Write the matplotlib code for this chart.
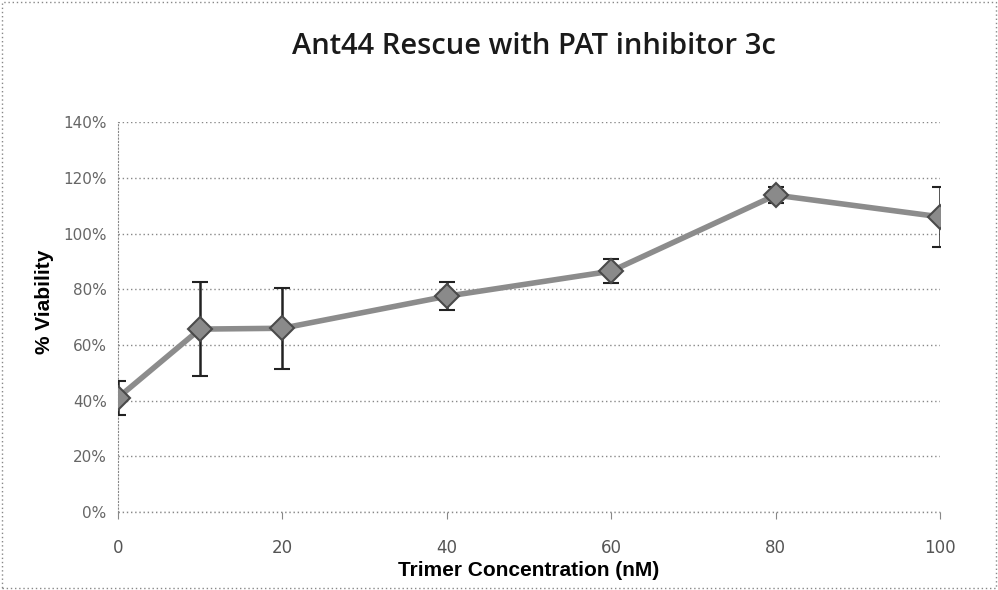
#!/usr/bin/env python3

import numpy as np
import matplotlib
matplotlib.use('Agg')
import matplotlib.pyplot as plt
from matplotlib.patches import Rectangle

# data
conc = [0, 10, 20, 40, 60, 80, 100]
viability = [41, 65.7, 66, 77.5, 86.5, 113.8, 106]
err = [6, 17, 14.5, 5, 4.3, 3, 10.7]

fig = plt.figure(figsize=(9.98, 5.9), dpi=100)
ax = fig.add_axes([0.118, 0.132, 0.824, 0.661])

ax.errorbar(conc, viability, yerr=err, color='#8c8c8c', lw=4,
            marker='D', markersize=12, markerfacecolor='#8a8a8a',
            markeredgecolor='#4a4a4a', markeredgewidth=1.5,
            ecolor='#222222', elinewidth=1.8,
            capsize=6, capthick=1.8, zorder=3)

ax.set_xlim(0, 100)
ax.set_ylim(0, 140)
ax.set_yticks(np.arange(0, 141, 20))
ax.set_yticklabels([f'{v}%' for v in range(0, 141, 20)])
ax.set_xticks([0, 20, 40, 60, 80, 100])

ax.grid(axis='y', linestyle=(0, (1, 2)), color='#888888', lw=1)
for s in ['top', 'right', 'bottom']:
    ax.spines[s].set_visible(False)
ax.spines['left'].set_linestyle((0, (1, 2)))
ax.spines['left'].set_color('#888888')
ax.axhline(0, color='#888888', lw=1, linestyle=(0, (1, 2)), clip_on=False)
ax.tick_params(axis='y', length=0, pad=8, labelsize=11, labelcolor='#666666')
ax.tick_params(axis='x', length=5, color='#888888', direction='out', pad=14,
               labelsize=12, labelcolor='#555555')

ax.set_xlabel('Trimer Concentration (nM)', fontsize=15, fontweight='bold',
              family='Liberation Sans', labelpad=3)
ax.set_ylabel('% Viability', fontsize=15, fontweight='bold',
              family='Liberation Sans', labelpad=4)
ax.yaxis.set_label_coords(-0.078, 0.54)
fig.text(0.535, 0.922, 'Ant44 Rescue with PAT inhibitor 3c', ha='center',
         va='center', fontsize=21, family='Open Sans', fontweight='semibold',
         color='#1a1a1a')

# dotted frame around the whole chart
fig.patches.append(Rectangle((0.002, 0.003), 0.996, 0.994, transform=fig.transFigure,
                             fill=False, ec='#888888', lw=1, ls=(0, (1, 2))))

fig.savefig('out.png', dpi=100)
